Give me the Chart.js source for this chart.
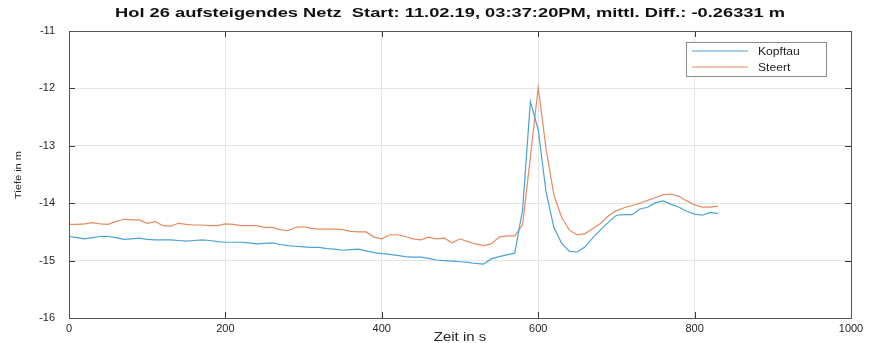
<!DOCTYPE html>
<html>
<head>
<meta charset="utf-8">
<script src="https://cdn.jsdelivr.net/npm/chart.js@4/dist/chart.umd.min.js"></script>
<style>
  html, body { margin: 0; padding: 0; background: #fff; }
  #wrap { width: 873px; height: 343px; }
</style>
</head>
<body>
<div id="wrap"><canvas id="holChart" width="873" height="343"></canvas></div>
<script>
// Zeit in s (Abtastung alle 10 s)
const zeit = [0, 10, 20, 30, 40, 50, 60, 70, 80, 90, 100, 110, 120, 130, 140, 150, 160, 170, 180, 190,
    200, 210, 220, 230, 240, 250, 260, 270, 280, 290, 300, 310, 320, 330, 340, 350, 360, 370, 380, 390,
    400, 410, 420, 430, 440, 450, 460, 470, 480, 490, 500, 510, 520, 530, 540, 550, 560, 570, 580, 590,
    600, 610, 620, 630, 640, 650, 660, 670, 680, 690, 700, 710, 720, 730, 740, 750, 760, 770, 780, 790,
    800, 810, 820, 830];

// Tiefe Kopftau in m
const kopftau = [-14.58, -14.60, -14.62, -14.60, -14.58, -14.58, -14.60, -14.63, -14.62, -14.61,
    -14.63, -14.64, -14.64, -14.64, -14.65, -14.66, -14.65, -14.64, -14.65, -14.67,
    -14.68, -14.68, -14.68, -14.69, -14.71, -14.70, -14.69, -14.72, -14.74, -14.75,
    -14.76, -14.77, -14.77, -14.79, -14.80, -14.82, -14.81, -14.80, -14.83, -14.86,
    -14.88, -14.89, -14.91, -14.93, -14.94, -14.94, -14.96, -14.99, -15.00, -15.01,
    -15.02, -15.03, -15.05, -15.06, -14.97, -14.93, -14.90, -14.87, -14.12, -12.23,
    -12.72, -13.80, -14.42, -14.70, -14.84, -14.85, -14.76, -14.60, -14.46, -14.33,
    -14.21, -14.20, -14.20, -14.10, -14.07, -13.99, -13.96, -14.02, -14.07, -14.14,
    -14.19, -14.21, -14.16, -14.18];

// Tiefe Steert in m
const steert = [-14.37, -14.37, -14.36, -14.34, -14.36, -14.37, -14.32, -14.28, -14.29, -14.29,
    -14.35, -14.32, -14.39, -14.40, -14.35, -14.37, -14.38, -14.38, -14.39, -14.39,
    -14.36, -14.37, -14.39, -14.39, -14.39, -14.42, -14.42, -14.46, -14.48, -14.42,
    -14.41, -14.44, -14.45, -14.45, -14.45, -14.46, -14.49, -14.50, -14.50, -14.59,
    -14.62, -14.55, -14.55, -14.58, -14.62, -14.64, -14.59, -14.62, -14.61, -14.69,
    -14.62, -14.67, -14.71, -14.74, -14.71, -14.59, -14.57, -14.57, -14.38, -13.20,
    -11.98, -13.05, -13.85, -14.25, -14.47, -14.55, -14.53, -14.44, -14.35, -14.22,
    -14.13, -14.08, -14.04, -14.00, -13.95, -13.90, -13.85, -13.84, -13.88, -13.96,
    -14.03, -14.07, -14.07, -14.05];

const seriesNames = ["Kopftau", "Steert"];
const seriesColors = ["#4ba3d6", "#e58c62"];

const titleText = "Hol 26 aufsteigendes Netz  Start: 11.02.19, 03:37:20PM, mittl. Diff.: -0.26331 m";
const fontName = "'Liberation Sans', Arial, Helvetica, sans-serif";
const axisColor = "#3a3a3a";

// Rahmen, Ticks nach innen, Titel, Achsentitel und Legende (MATLAB-Stil)
const matlabPlugin = {
    id: "matlabStyle",
    afterDraw(chart) {
        const ctx = chart.ctx;
        const a = chart.chartArea;
        const xs = chart.scales.x;
        const ys = chart.scales.y;
        ctx.save();

        // Ticks nach innen
        ctx.strokeStyle = axisColor;
        ctx.lineWidth = 1;
        ctx.beginPath();
        xs.ticks.forEach((t) => {
            const px = Math.round(xs.getPixelForValue(t.value)) + 0.5;
            ctx.moveTo(px, a.bottom);
            ctx.lineTo(px, a.bottom - 6);
            ctx.moveTo(px, a.top);
            ctx.lineTo(px, a.top + 6);
        });
        ys.ticks.forEach((t) => {
            const py = Math.round(ys.getPixelForValue(t.value)) + 0.5;
            ctx.moveTo(a.left, py);
            ctx.lineTo(a.left + 6, py);
            ctx.moveTo(a.right, py);
            ctx.lineTo(a.right - 6, py);
        });
        ctx.stroke();

        // Rahmen
        ctx.strokeStyle = "#555";
        ctx.strokeRect(Math.round(a.left) + 0.5, Math.round(a.top) + 0.5,
            Math.round(a.right - a.left), Math.round(a.bottom - a.top));

        // Titel (breit gesetzt wie im Original)
        ctx.fillStyle = "#111";
        ctx.font = "bold 12px " + fontName;
        ctx.textAlign = "center";
        ctx.textBaseline = "middle";
        const tw = ctx.measureText(titleText).width;
        ctx.save();
        ctx.translate(450, 14);
        ctx.scale(670 / tw, 1);
        ctx.fillText(titleText, 0, 0);
        ctx.restore();

        // Achsentitel
        ctx.font = "13px " + fontName;
        ctx.fillStyle = "#262626";
        ctx.save();
        ctx.translate((a.left + a.right) / 2, 337);
        ctx.scale(1.15, 1);
        ctx.fillText("Zeit in s", 0, 0);
        ctx.restore();
        ctx.save();
        ctx.translate(19, 175);
        ctx.rotate(-Math.PI / 2);
        ctx.scale(1, 0.8);
        ctx.font = "11px " + fontName;
        ctx.fillText("Tiefe in m", 0, 0);
        ctx.restore();

        // Legende
        const lx = 686, ly = 42, lw = 140, lh = 34;
        ctx.fillStyle = "#fff";
        ctx.fillRect(lx, ly, lw, lh);
        ctx.strokeStyle = "#8a8a8a";
        ctx.strokeRect(lx + 0.5, ly + 0.5, lw, lh);
        ctx.font = "11px " + fontName;
        ctx.textAlign = "left";
        chart.data.datasets.forEach((ds, i) => {
            const yy = ly + 9 + i * 16;
            ctx.strokeStyle = seriesColors[i];
            ctx.lineWidth = 1.2;
            ctx.beginPath();
            ctx.moveTo(lx + 6, yy);
            ctx.lineTo(lx + 62, yy);
            ctx.stroke();
            ctx.fillStyle = "#222";
            ctx.save();
            ctx.translate(lx + 72, yy + 1);
            ctx.scale(1.1, 1);
            ctx.fillText(ds.label, 0, 0);
            ctx.restore();
        });
        ctx.restore();
    },
};

const datasets = [kopftau, steert].map((werte, i) => ({
    label: seriesNames[i],
    data: zeit.map((t, k) => ({ x: t, y: werte[k] })),
    borderColor: seriesColors[i],
    borderWidth: 1.2,
    pointRadius: 0,
    tension: 0,
    fill: false,
}));

const ctx = document.getElementById("holChart").getContext("2d");
const holChart = new Chart(ctx, {
    type: "line",
    data: { datasets: datasets },
    options: {
        responsive: false,
        animation: false,
        layout: { padding: { left: 0, top: 31, right: 22, bottom: 0 } },
        plugins: {
            legend: { display: false },
            title: { display: false },
            tooltip: { enabled: false },
        },
        scales: {
            x: {
                type: "linear",
                min: 0,
                max: 1000,
                ticks: {
                    stepSize: 200,
                    padding: 4,
                    color: "#262626",
                    font: { family: fontName, size: 11 },
                    callback: (v) => String(v),
                },
                grid: { color: "#e4e4e4", drawTicks: false },
                border: { display: false },
                afterFit: (s) => { s.height = 25; },
            },
            y: {
                min: -16,
                max: -11,
                ticks: {
                    stepSize: 1,
                    padding: 14,
                    color: "#262626",
                    font: { family: fontName, size: 11 },
                    callback: (v) => String(v),
                },
                grid: { color: "#e4e4e4", drawTicks: false },
                border: { display: false },
                afterFit: (s) => { s.width = 69; },
            },
        },
    },
    plugins: [matlabPlugin],
});
</script>
</body>
</html>
